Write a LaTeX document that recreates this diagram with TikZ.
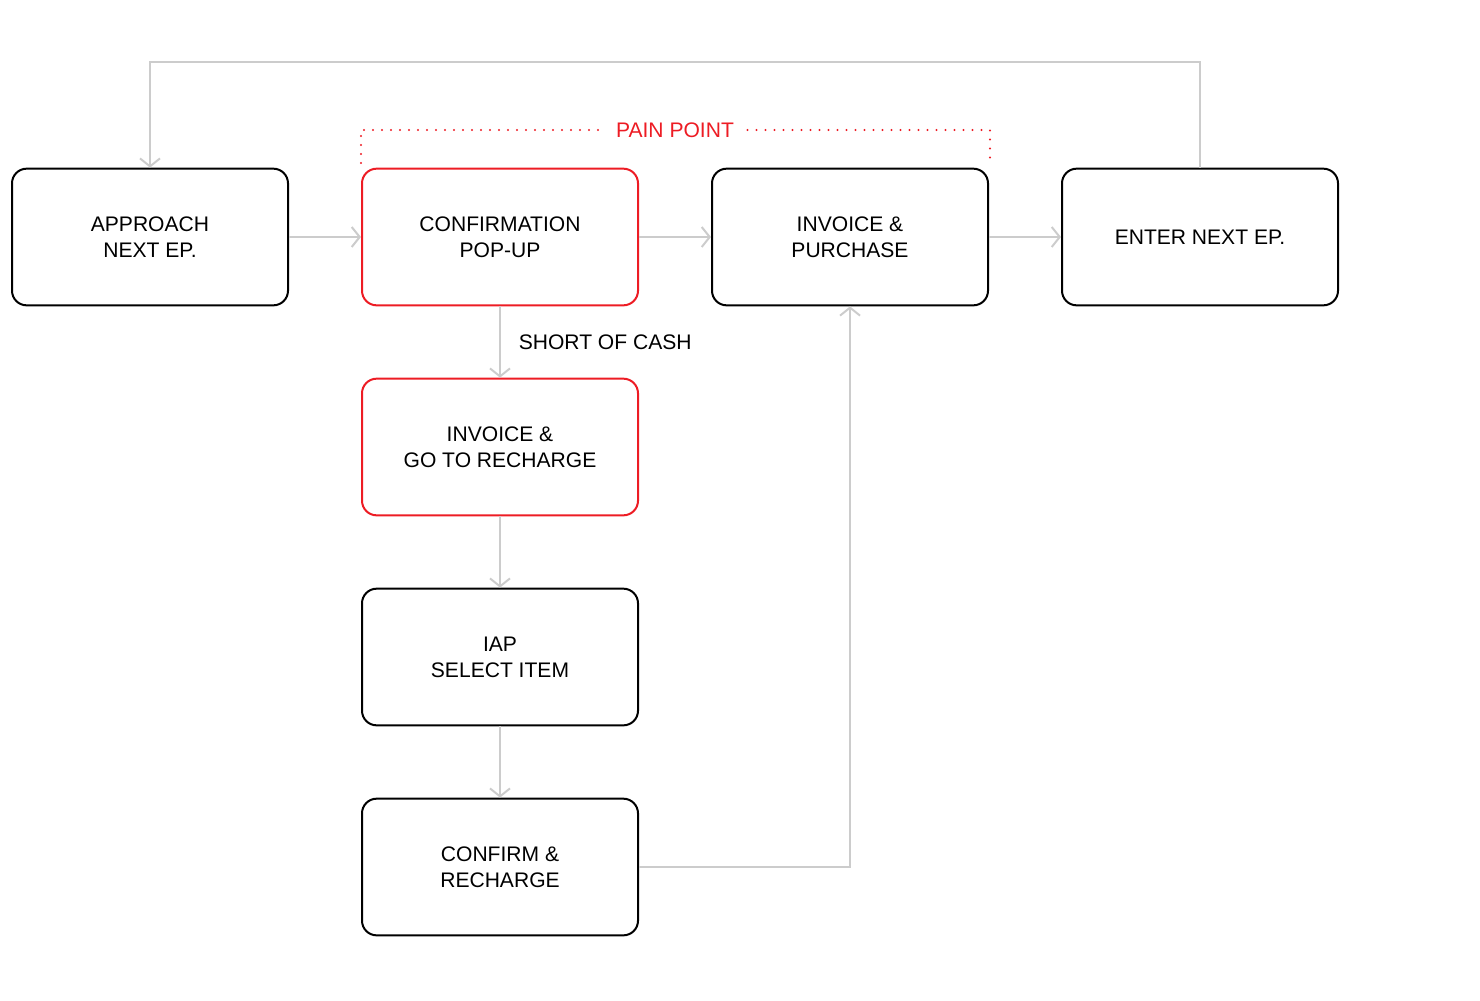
\documentclass[tikz,border=0pt]{standalone}
\usepackage{fontspec}
\setmainfont{Liberation Sans}
\usetikzlibrary{arrows.meta}
\definecolor{painred}{RGB}{237,28,36}
\definecolor{flowgray}{RGB}{204,204,204}

\begin{document}
\begin{tikzpicture}[x=0.75pt,y=-0.75pt,
    every node/.style={font=\fontsize{15.8}{19.5}\selectfont},
    stage/.style={draw,line width=1.5pt,rounded corners=11pt,
      minimum width=207pt,minimum height=102.5pt,align=center},
    painstage/.style={stage,draw=painred},
    flow/.style={draw=flowgray,line width=1.5pt,
      -{Straight Barb[length=6pt,width=15pt,line width=1.5pt]}},
    pain/.style={draw=painred,line width=1.6pt,line cap=round,
      dash pattern=on 0pt off 6.75pt}]
  \useasboundingbox (0,0) rectangle (1480,1000);
  % top row
  \node[stage] (approach) at (150,237) {APPROACH\\NEXT EP.};
  \node[painstage] (confirm) at (500,237) {CONFIRMATION\\POP-UP};
  \node[stage] (invoice) at (850,237) {INVOICE \&\\PURCHASE};
  \node[stage] (enter) at (1200,237) {ENTER NEXT EP.};
  % recharge branch
  \node[painstage] (recharge) at (500,447) {INVOICE \&\\GO TO RECHARGE};
  \node[stage] (iap) at (500,657) {IAP\\SELECT ITEM};
  \node[stage] (confirmrc) at (500,867) {CONFIRM \&\\RECHARGE};
  % pain point bracket
  \node[text=painred,inner sep=10pt] (painlabel) at (675,130) {PAIN POINT};
  \coordinate (painL) at (361,163);
  \coordinate (painR) at (990,163);
  \draw[pain] (painL) |- (painlabel.west);
  \draw[pain] (painlabel.east) -| (painR);
  % connectors
  \draw[flow] (approach) -- (confirm);
  \draw[flow] (confirm) -- (invoice);
  \draw[flow] (invoice) -- (enter);
  \draw[flow] (enter.north) -- ++(0,-106) -| (approach.north);
  \draw[flow] (confirm) -- node[right=10pt] {SHORT OF CASH} (recharge);
  \draw[flow] (recharge) -- (iap);
  \draw[flow] (iap) -- (confirmrc);
  \draw[flow] (confirmrc.east) -| (invoice.south);
\end{tikzpicture}
\end{document}
